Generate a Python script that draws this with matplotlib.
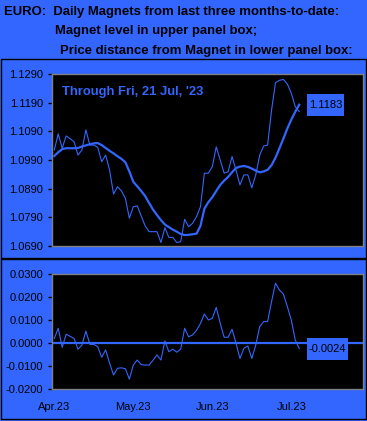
import matplotlib
matplotlib.use("Agg")
import matplotlib.pyplot as plt
from matplotlib.patches import Rectangle
from matplotlib.transforms import IdentityTransform

# ---------------- data ----------------
price = [1.1025, 1.1081, 1.1031, 1.1074, 1.1064, 1.1054, 1.1007, 1.1025, 1.1095, 1.1042,
         1.1042, 1.1034, 1.0984, 1.1007, 1.0955, 1.0871, 1.0897, 1.0882, 1.0856, 1.0787,
         1.0827, 1.0830, 1.0795, 1.0760, 1.0740, 1.0740, 1.0740, 1.0702, 1.0754, 1.0720,
         1.0720, 1.0702, 1.0705, 1.0783, 1.0757, 1.0769, 1.0792, 1.0827, 1.0944, 1.0944,
         1.0967, 1.1036, 1.0990, 1.0944, 1.0949, 1.1002, 1.0955, 1.0903, 1.0938, 1.0938,
         1.0893, 1.0938, 1.1007, 1.1039, 1.1042, 1.1164, 1.1260, 1.1268, 1.1271, 1.1255,
         1.1223, 1.1176, 1.1159]
magnet = [1.1004, 1.1017, 1.1028, 1.1031, 1.1031, 1.1031, 1.1032, 1.1037, 1.1041, 1.1045,
          1.1048, 1.1049, 1.1042, 1.1032, 1.1022, 1.1013, 1.1003, 1.0994, 1.0982, 1.0950,
          1.0914, 1.0898, 1.0882, 1.0864, 1.0840, 1.0817, 1.0798, 1.0780, 1.0765, 1.0756,
          1.0747, 1.0740, 1.0732, 1.0728, 1.0729, 1.0731, 1.0733, 1.0760, 1.0820, 1.0843,
          1.0860, 1.0882, 1.0903, 1.0918, 1.0931, 1.0947, 1.0962, 1.0967, 1.0969, 1.0966,
          1.0960, 1.0953, 1.0947, 1.0950, 1.0956, 1.0972, 1.0998, 1.1031, 1.1065, 1.1100,
          1.1131, 1.1158, 1.1183]
distance = [0.0020, 0.0064, -0.0019, 0.0038, 0.0029, 0.0020, -0.0027, -0.0009, 0.0052, -0.0006,
            -0.0006, -0.0016, -0.0062, -0.0030, -0.0088, -0.0139, -0.0110, -0.0108, -0.0112, -0.0157,
            -0.0096, -0.0074, -0.0094, -0.0096, -0.0096, -0.0075, -0.0052, -0.0074, 0.0009, -0.0038,
            -0.0027, -0.0040, -0.0027, 0.0064, 0.0027, 0.0035, 0.0055, 0.0085, 0.0126, 0.0100,
            0.0107, 0.0155, 0.0086, 0.0025, 0.0025, 0.0060, -0.0001, -0.0067, -0.0023, -0.0013,
            -0.0067, -0.0009, 0.0071, 0.0093, 0.0093, 0.0180, 0.0260, 0.0230, 0.0213, 0.0158,
            0.0100, 0.0013, -0.0024]
x_tick_pos = [0, 20, 40, 60]
x_tick_labels = ["Apr.23", "May.23", "Jun.23", "Jul.23"]
upper_ticks = [1.0690, 1.0790, 1.0890, 1.0990, 1.1090, 1.1190, 1.1290]
lower_ticks = [-0.0200, -0.0100, 0.0000, 0.0100, 0.0200, 0.0300]
through_text = "Through Fri, 21 Jul, '23"
title_lines = ["EURO:  Daily Magnets from last three months-to-date:",
               "Magnet level in upper panel box;",
               "Price distance from Magnet in lower panel box:"]

# ---------------- style ----------------
BLUE = "#3366ff"
GRAY = "#808080"
W, H = 367, 421
FONT = ["Liberation Sans", "DejaVu Sans"]
plt.rcParams["font.family"] = FONT

fig = plt.figure(figsize=(W / 100, H / 100), dpi=100, facecolor=BLUE)

def fig_rect(left, top, right, bottom):
    return [left / W, (H - bottom) / H, (right - left) / W, (bottom - top) / H]

# frames
for (t, b) in [(59, 258), (259, 419)]:
    fig.add_artist(Rectangle((0.5 / W, (H - b) / H), (W - 1.5) / W, (b - t) / H,
                             transform=fig.transFigure, fill=False,
                             edgecolor="black", linewidth=1))

# title
for txt, (xl, yc) in zip(title_lines, [(4, 12), (55, 31), (60, 51)]):
    fig.text(xl / W, (H - yc) / H, txt, ha="left", va="center",
             fontsize=9.45, fontweight="bold", color="black")

xs = list(range(len(price)))
xlim = (-0.58, 78.15)

ax1 = fig.add_axes(fig_rect(52, 74, 363, 246), facecolor="black")
ax2 = fig.add_axes(fig_rect(52, 274, 363, 389), facecolor="black")

ax1.plot(xs, price, color=BLUE, linewidth=0.8)
ax1.plot(xs, magnet, color=BLUE, linewidth=1.6)
ax1.set_ylim(upper_ticks[0], upper_ticks[-1])
ax1.set_yticks(upper_ticks)
ax1.set_yticklabels([f"{v:.4f}" for v in upper_ticks])
ax1.set_xticks([])

ax2.axhline(0.0, color=BLUE, linewidth=1.6)
ax2.plot(xs, distance, color=BLUE, linewidth=0.8)
ax2.set_ylim(lower_ticks[0], lower_ticks[-1])
ax2.set_yticks(lower_ticks)
ax2.set_yticklabels([f"{v:.4f}" for v in lower_ticks])
ax2.set_xticks(x_tick_pos)
ax2.set_xticklabels(x_tick_labels)

for ax in (ax1, ax2):
    ax.set_xlim(*xlim)
    for s in ax.spines.values():
        s.set_color(GRAY)
        s.set_linewidth(1)
    ax.tick_params(axis="y", direction="out", length=3, width=1, color="black",
                   labelsize=8, labelcolor="black", pad=3.5)
    ax.tick_params(axis="x", length=0, labelsize=8, labelcolor="black", pad=9)

ax1.text(0.032, 0.93, through_text, transform=ax1.transAxes, ha="left", va="top",
         fontsize=9.4, fontweight="bold", color=BLUE)

# value boxes at last point
def value_box(ax, xv, yv, label, w_px):
    px, py = ax.transData.transform((xv, yv))
    x0 = px + 8
    h = 22
    ax.add_artist(Rectangle((x0, py - h / 2), w_px, h, transform=IdentityTransform(),
                            facecolor=BLUE, edgecolor="none", zorder=5, clip_on=False))
    fig.text((x0 + w_px / 2) / W, py / H, label, ha="center", va="center",
             fontsize=8, color="black", zorder=6)

value_box(ax1, xs[-1], magnet[-1], f"{magnet[-1]:.4f}", 37)
value_box(ax2, xs[-1], distance[-1], f"{distance[-1]:.4f}", 41)

fig.savefig("out.png", dpi=100, facecolor=BLUE)
